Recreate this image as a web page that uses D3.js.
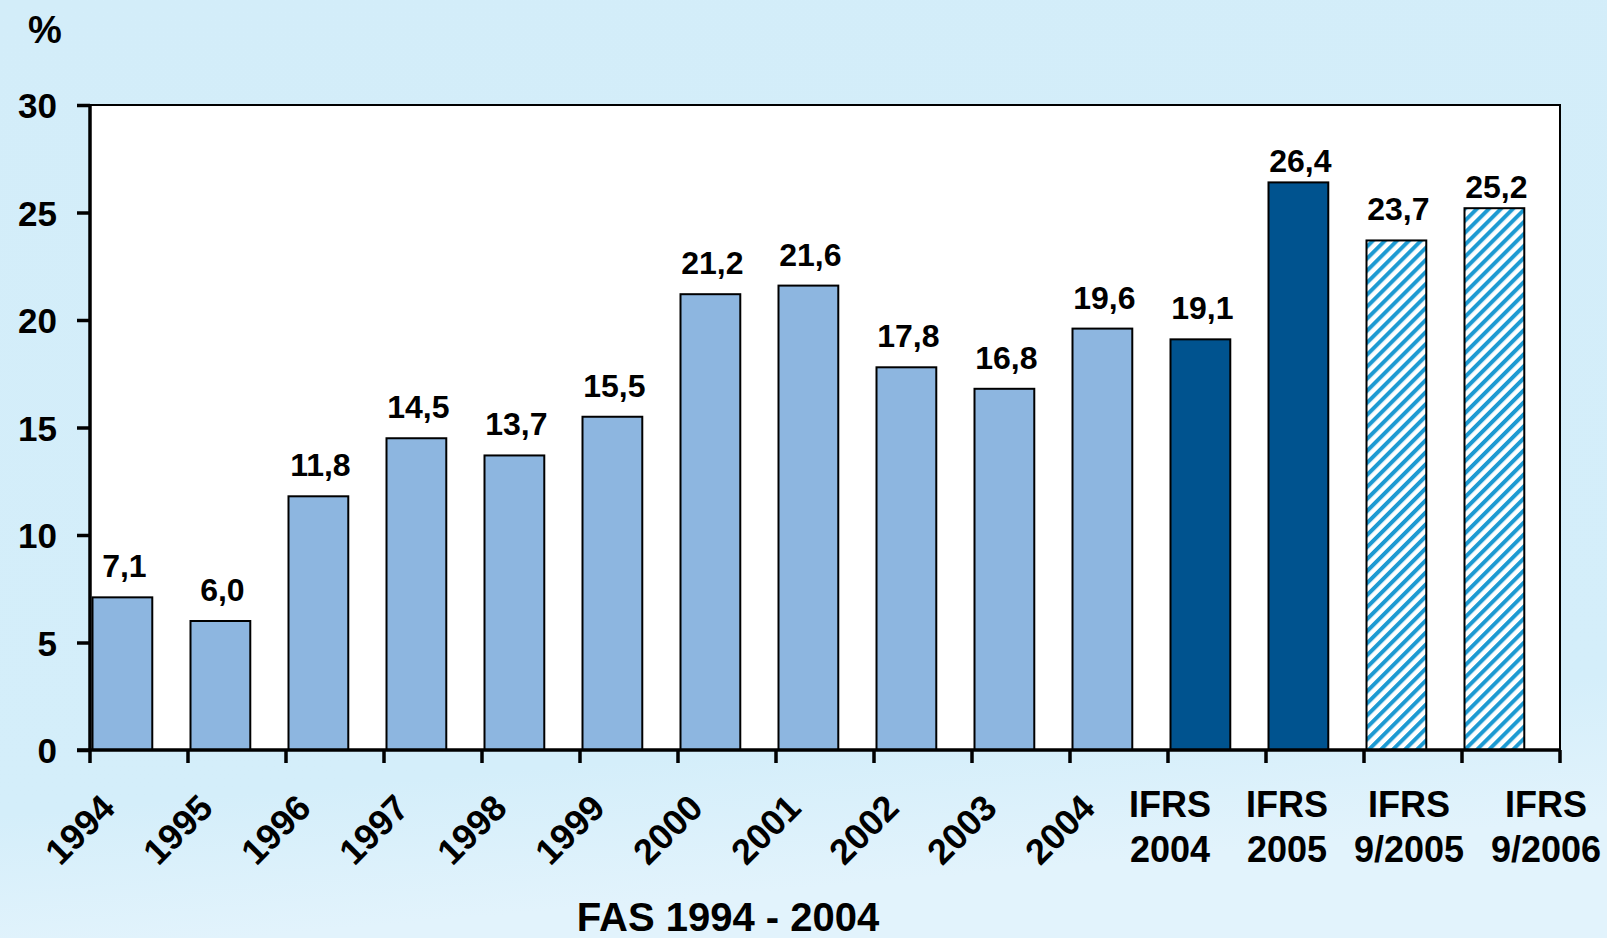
<!DOCTYPE html>
<html>
<head>
<meta charset="utf-8">
<script src="https://cdn.jsdelivr.net/npm/d3@7/dist/d3.min.js"></script>
<style>
  html, body { margin: 0; padding: 0; background: #d4eefa; }
  svg { display: block; }
  text { font-family: "Liberation Sans", Arial, sans-serif; font-weight: bold; fill: #000; }
</style>
</head>
<body>
<script>
// ---- data ----
const categories = ["1994","1995","1996","1997","1998","1999","2000","2001","2002","2003","2004",
                    "IFRS 2004","IFRS 2005","IFRS 9/2005","IFRS 9/2006"];
const values = [7.1, 6.0, 11.8, 14.5, 13.7, 15.5, 21.2, 21.6, 17.8, 16.8, 19.6, 19.1, 26.4, 23.7, 25.2];
const barKinds = ["fas","fas","fas","fas","fas","fas","fas","fas","fas","fas","fas",
                  "ifrs","ifrs","forecast","forecast"];
const valueLabels = ["7,1","6,0","11,8","14,5","13,7","15,5","21,2","21,6","17,8","16,8","19,6",
                     "19,1","26,4","23,7","25,2"];
const yTicks = [0, 5, 10, 15, 20, 25, 30];
const unitLabel = "%";
const groupTitle = "FAS 1994 - 2004";

// ---- layout / style ----
const W = 1607, H = 938;
const plot = { left: 90, right: 1560, top: 105, bottom: 750 };
const fills = { fas: "#8db6e0", ifrs: "#00538f", forecast: "url(#hatch)" };
// horizontal shift of the two-line IFRS labels relative to their band centre
const ifrsLabelShift = { "IFRS 2004": -47, "IFRS 2005": -28, "IFRS 9/2005": -4, "IFRS 9/2006": 35 };
// gap (px) between bar top and its value label baseline
const labelGap = [20, 20, 20, 20, 20, 20, 20, 20, 20, 20, 20, 20, 10, 20, 10];

const svg = d3.select("body").append("svg").attr("width", W).attr("height", H);
const defs = svg.append("defs");

const bg = defs.append("linearGradient").attr("id", "bg")
  .attr("x1", "0").attr("y1", "0").attr("x2", "0.15").attr("y2", "1");
bg.append("stop").attr("offset", "0").attr("stop-color", "#d3edf9");
bg.append("stop").attr("offset", "0.85").attr("stop-color", "#d4eefa");
bg.append("stop").attr("offset", "1").attr("stop-color", "#e2f3fc");

const pat = defs.append("pattern").attr("id", "hatch")
  .attr("patternUnits", "userSpaceOnUse").attr("width", 8.5).attr("height", 8.5)
  .attr("patternTransform", "rotate(45)");
pat.append("rect").attr("width", 8.5).attr("height", 8.5).attr("fill", "#ffffff");
pat.append("rect").attr("width", 4).attr("height", 8.5).attr("fill", "#1d9ad2");

svg.append("rect").attr("width", W).attr("height", H).attr("fill", "url(#bg)");

const x = d3.scaleBand().domain(categories).range([plot.left, plot.right]).padding(0);
const y = d3.scaleLinear().domain([0, 30]).range([plot.bottom, plot.top]);

// plot area
svg.append("rect")
  .attr("x", plot.left).attr("y", plot.top)
  .attr("width", plot.right - plot.left).attr("height", plot.bottom - plot.top)
  .attr("fill", "#ffffff");
svg.append("path")
  .attr("d", `M${plot.left},${plot.top}H${plot.right}V${plot.bottom}`)
  .attr("fill", "none").attr("stroke", "#000").attr("stroke-width", 2);

// bars
const barOffset = 2.5, barW = x.bandwidth() * 0.61;
svg.append("g").selectAll("rect").data(categories).join("rect")
  .attr("x", d => x(d) + barOffset)
  .attr("y", (d, i) => y(values[i]))
  .attr("width", barW)
  .attr("height", (d, i) => y(0) - y(values[i]))
  .attr("fill", (d, i) => fills[barKinds[i]])
  .attr("stroke", "#000").attr("stroke-width", 2);

// value labels
svg.append("g").selectAll("text").data(categories).join("text")
  .attr("x", d => x(d) + barOffset + barW / 2 + 2)
  .attr("y", (d, i) => y(values[i]) - labelGap[i])
  .attr("text-anchor", "middle")
  .style("font-size", "32px")
  .text((d, i) => valueLabels[i]);

// y axis
const yAxis = svg.append("g").attr("transform", `translate(${plot.left},0)`)
  .call(d3.axisLeft(y).tickValues(yTicks).tickSize(13).tickPadding(20).tickFormat(d3.format("d")));
yAxis.select(".domain").attr("stroke-width", 3.5).attr("d", `M0,${plot.top}V${plot.bottom}`);
yAxis.selectAll(".tick line").attr("stroke-width", 3.5);
yAxis.selectAll(".tick text").style("font-size", "35px").attr("dy", "0.36em")
  .style("font-family", '"Liberation Sans", Arial, sans-serif').style("font-weight", "bold");

// x axis (ticks at category boundaries)
const xb = svg.append("g").attr("transform", `translate(0,${plot.bottom})`);
xb.append("line").attr("x1", plot.left - 13).attr("x2", plot.right)
  .attr("stroke", "#000").attr("stroke-width", 3.5);
const bounds = categories.map(d => x(d)).concat([x(categories[categories.length - 1]) + x.step()]);
xb.selectAll("line.tick").data(bounds).join("line").attr("class", "tick")
  .attr("x1", d => d).attr("x2", d => d).attr("y1", 0).attr("y2", 13)
  .attr("stroke", "#000").attr("stroke-width", 3.5);

// x labels
categories.forEach((c, i) => {
  const cx = x(c) + x.bandwidth() / 2;
  if (c.startsWith("IFRS")) {
    const parts = c.split(" ");
    const t = svg.append("text").attr("text-anchor", "middle").style("font-size", "36px")
      .attr("x", cx + ifrsLabelShift[c]).attr("y", 817);
    t.append("tspan").attr("x", cx + ifrsLabelShift[c]).attr("y", 817).text(parts[0]);
    t.append("tspan").attr("x", cx + ifrsLabelShift[c]).attr("y", 862).text(parts[1]);
  } else {
    const ax = cx - 22, ay = 810;
    svg.append("text").attr("text-anchor", "end").style("font-size", "36px")
      .attr("transform", `translate(${ax},${ay}) rotate(-45)`)
      .text(c);
  }
});

// unit label & group title
svg.append("text").attr("x", 45).attr("y", 43).attr("text-anchor", "middle")
  .style("font-size", "38px").text(unitLabel);
svg.append("text").attr("x", 728).attr("y", 931).attr("text-anchor", "middle")
  .style("font-size", "40px").text(groupTitle);
</script>
</body>
</html>
